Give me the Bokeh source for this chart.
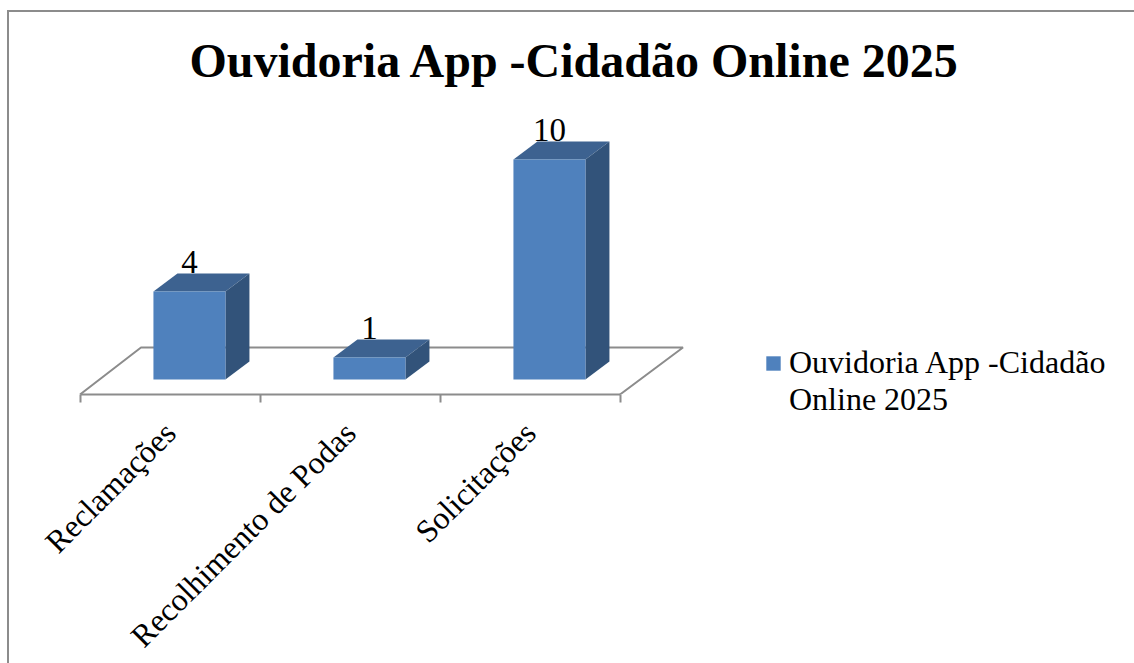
from math import pi
from bokeh.plotting import figure
from bokeh.embed import file_html
from bokeh.resources import INLINE
from bokeh.core.properties import value
from bokeh.models import (ColumnDataSource, FixedTicker, Legend, LegendItem, Title)

title_text = "Ouvidoria App -Cidadão Online 2025"
series_lines = ["Ouvidoria App -Cidadão", "Online 2025"]
categories = ["Reclamações", "Recolhimento de Podas", "Solicitações"]
values = [4, 1, 10]

SERIF = "Liberation Serif"
PX_X, PX_Y = 180.0, 22.0           # pixels per category, pixels per unit
BAR_W, BAR_SHIFT = 0.4, 0.108      # front-face width, shift from band centre
DEPTH_X, DEPTH_Y = 24 / PX_X, 18 / PX_Y
FLOOR_Y0 = -15 / PX_Y
FLOOR_DXL, FLOOR_DXR, FLOOR_DY = 61 / PX_X, 63 / PX_X, 47 / PX_Y
FRAME_H = 289
FRAME_W = 700
X0_OFFSET = 160.5                  # frame pixels from left edge to first band centre

idx = list(range(len(categories)))
p = figure(width=1127, height=653, frame_width=FRAME_W, frame_height=FRAME_H,
           output_backend="svg", toolbar_location=None,
           x_range=(-X0_OFFSET / PX_X, (FRAME_W - X0_OFFSET) / PX_X),
           y_range=(FLOOR_Y0, FLOOR_Y0 + FRAME_H / PX_Y),
           y_axis_location=None, min_border_top=93, min_border_bottom=271,
           min_border_left=0, min_border_right=27,
           outline_line_color=None, margin=(10, 0, 0, 7),
           styles={"border-left": "2px solid #8c8c8c", "border-top": "2px solid #8c8c8c",
                   "max-height": "653px", "overflow": "hidden"})
p.grid.visible = False

p.title = Title(text=title_text, align="left", offset=180, text_font=SERIF, text_font_size="48px",
                text_font_style="bold", text_color="#000000", standoff=38)

# floor
lo, hi = idx[0] - 0.5, idx[-1] + 0.5
p.line([lo, lo + FLOOR_DXL, hi + FLOOR_DXR, hi],
       [FLOOR_Y0, FLOOR_Y0 + FLOOR_DY, FLOOR_Y0 + FLOOR_DY, FLOOR_Y0],
       line_color="#8c8c8c", line_width=2)

lefts = [i + BAR_SHIFT - BAR_W / 2 for i in idx]
rights = [i + BAR_SHIFT + BAR_W / 2 for i in idx]
src = ColumnDataSource(dict(
    x=[i + BAR_SHIFT for i in idx], v=values,
    label=[str(v) for v in values],
    top_xs=[[l, l + DEPTH_X, r + DEPTH_X, r] for l, r in zip(lefts, rights)],
    top_ys=[[v, v + DEPTH_Y, v + DEPTH_Y, v] for v in values],
    side_xs=[[r, r + DEPTH_X, r + DEPTH_X, r] for r in rights],
    side_ys=[[0, DEPTH_Y, v + DEPTH_Y, v] for v in values],
    label_y=[v + DEPTH_Y for v in values],
))
p.patches("top_xs", "top_ys", source=src, fill_color="#3d6290", line_color=None)
p.patches("side_xs", "side_ys", source=src, fill_color="#32537a", line_color=None)
front = p.vbar(x="x", width=BAR_W, bottom=0, top="v", source=src, fill_color="#4f81bd", line_color=None)
blank = p.vbar(x="x", width=BAR_W, bottom=0, top="v", source=src, fill_alpha=0, line_alpha=0)
p.text(x="x", y="label_y", text="label", source=src, text_font=value(SERIF), text_font_size="33px",
       text_align="center", text_baseline="alphabetic", text_color="#000000", y_offset=-12)

# axis
ax = p.xaxis[0]
ax.ticker = FixedTicker(ticks=idx, minor_ticks=[lo + i for i in range(len(idx) + 1)])
ax.major_label_overrides = dict(zip(idx, categories))
ax.bounds = (lo, hi)
ax.major_tick_line_color = None
ax.major_tick_out = 0
ax.major_tick_in = 0
ax.minor_tick_line_color = "#8c8c8c"
ax.minor_tick_line_width = 2
ax.minor_tick_out = 8
ax.minor_tick_in = 0
ax.axis_line_color = "#8c8c8c"
ax.axis_line_width = 2
ax.major_label_orientation = pi / 4
ax.major_label_text_font = SERIF
ax.major_label_text_font_size = "32px"
ax.major_label_text_color = "#000000"
ax.major_label_standoff = 25

# legend: the swatch sits beside the first line only
leg = Legend(items=[LegendItem(label=value(series_lines[0]), renderers=[front]),
                    LegendItem(label=value(series_lines[1]), renderers=[blank])],
             location=(55, -24),
             background_fill_alpha=0, border_line_color=None, label_text_font=SERIF,
             label_text_font_size="32px", label_text_color="#000000", glyph_width=18, glyph_height=18,
             label_standoff=7, margin=0, padding=0, spacing=0)
p.add_layout(leg, "right")

open("out.html", "w").write(file_html(p, INLINE))
